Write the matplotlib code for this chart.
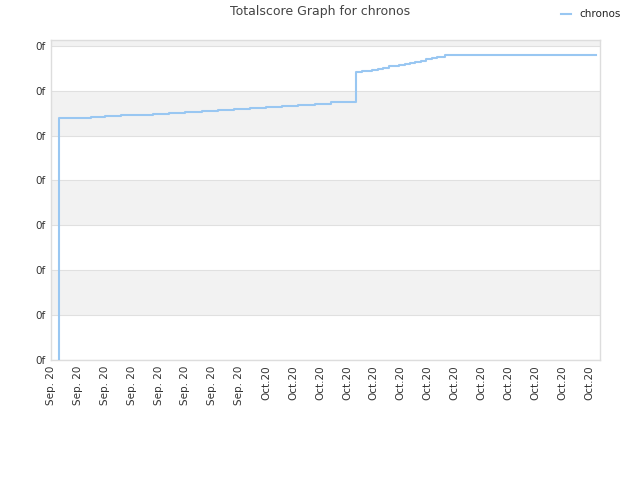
import matplotlib
matplotlib.use("Agg")
import matplotlib.pyplot as plt

title = "Totalscore Graph for chronos"
series_name = "chronos"
x_labels = ["Sep. 20"] * 8 + ["Oct.20"] * 13
y_labels = ["0f"] * 8

# positions in tick units, score in y-tick units
xs = [0.30, 0.30, 0.9, 1.5, 2.0, 2.6, 3.2, 3.8, 4.4, 5.0, 5.6, 6.2, 6.8, 7.4, 8.0,
      8.6, 9.2, 9.8, 10.4, 11.34,
      11.34, 11.55, 11.75, 11.95, 12.15, 12.35, 12.55, 12.75, 12.95, 13.15, 13.35,
      13.55, 13.75, 13.95, 14.15, 14.35, 14.65, 17.5, 18.5, 20.26]
ys = [0.0, 5.39, 5.40, 5.42, 5.43, 5.45, 5.47, 5.49, 5.51, 5.53, 5.55, 5.57, 5.59, 5.61, 5.63,
      5.65, 5.68, 5.71, 5.74, 5.79,
      6.41, 6.43, 6.45, 6.47, 6.49, 6.51, 6.54, 6.56, 6.58, 6.60, 6.62,
      6.65, 6.67, 6.70, 6.73, 6.76, 6.79, 6.79, 6.79, 6.79]

fig = plt.figure(figsize=(6.4, 4.8), dpi=100)
ax = fig.add_axes([51/640, 120/480, 549/640, 320/480])

ymax = 7.13
for lo in [1, 3, 5, 7]:
    ax.axhspan(lo, min(lo + 1, ymax), color="#f2f2f2", zorder=0, lw=0)
for yv in range(8):
    ax.axhline(yv, color="#e0e0e0", lw=0.8, zorder=1)

ax.plot(xs, ys, drawstyle="steps-post", color="#99c7f2", lw=1.5, label=series_name, zorder=3)

ax.set_xlim(0, 20.41)
ax.set_ylim(0, ymax)
ax.set_xticks(range(len(x_labels)))
ax.set_xticklabels(x_labels, rotation=90, fontsize=7.5, color="#333333")
ax.set_yticks(range(len(y_labels)))
ax.set_yticklabels(y_labels, fontsize=7.5, color="#333333")
ax.tick_params(length=0, pad=4)
for s in ax.spines.values():
    s.set_color("#dddddd")
    s.set_linewidth(1)

fig.text(0.5, 1 - 12/480, title, ha="center", va="center", fontsize=9, color="#444444")
fig.legend(loc="upper right", bbox_to_anchor=(0.985, 1.0), frameon=False, fontsize=7.5,
           handlelength=1.0, labelcolor="#222222")

fig.savefig("out.png", dpi=100)
